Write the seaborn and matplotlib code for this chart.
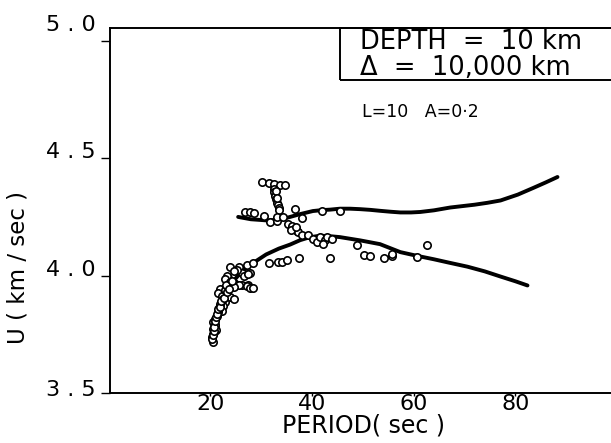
import numpy as np
import pandas as pd
import matplotlib
matplotlib.use("Agg")
import matplotlib.pyplot as plt
import matplotlib.transforms as mtransforms
from matplotlib.patches import Rectangle
import seaborn as sns

# ---- data ----
upper_period = [25.5, 28.0, 31.2, 33.5, 35.4, 37.7, 40.2, 42.0, 43.6, 45.5, 47.5, 49.5, 51.5,
                53.4, 55.5, 57.4, 59.5, 61.3, 64.0, 67.2, 70.0, 72.0, 74.5, 77.1, 80.5, 83.6, 86.0, 88.3]
upper_U = [4.250, 4.240, 4.235, 4.238, 4.248, 4.262, 4.275, 4.279, 4.281, 4.285, 4.285, 4.283, 4.280,
           4.276, 4.272, 4.269, 4.269, 4.271, 4.278, 4.290, 4.297, 4.302, 4.310, 4.320, 4.345, 4.374, 4.397, 4.420]

lower_period = [20.6, 21.2, 22.0, 23.5, 25.5, 27.9, 31.0, 33.5, 35.7, 37.7, 39.5, 41.6, 43.5, 45.5,
                49.5, 53.4, 57.4, 60.5, 63.9, 67.0, 70.6, 74.0, 77.1, 80.0, 82.4]
lower_U = [3.720, 3.800, 3.880, 3.950, 4.000, 4.046, 4.090, 4.115, 4.132, 4.151, 4.163, 4.170, 4.168, 4.164,
           4.150, 4.134, 4.100, 4.085, 4.070, 4.055, 4.038, 4.018, 3.996, 3.976, 3.958]

obs_period = [30.2, 31.5, 32.6, 33.8, 34.7,
              32.5, 32.6, 32.8, 33.0, 33.1, 33.3, 33.5, 33.6, 32.9, 33.2,
              36.7, 26.9, 27.9, 28.6, 30.5,
              31.8, 33.1, 33.1, 34.4, 38.0,
              35.4, 36.0, 36.5, 37.0, 37.2, 35.8, 36.8,
              38.0, 39.3, 40.3, 41.0, 41.6, 42.6, 43.0, 44.0, 42.2,
              42.0, 45.6, 48.9, 62.6,
              31.5, 33.4, 34.1, 35.1, 37.4, 43.6, 50.2, 51.5, 54.1, 55.7, 55.7, 60.7,
              23.9, 25.6, 27.2, 28.5, 26.2, 27.9, 23.6, 24.6, 26.2, 27.5, 27.2, 27.9, 28.5,
              25.3, 24.6, 26.6, 27.5,
              23.3, 22.9, 23.9, 24.9, 25.6, 24.6,
              21.9, 21.6, 22.3, 23.3, 23.9, 24.6,
              22.9, 22.6, 22.3, 21.6, 21.3, 20.9, 20.6, 20.9, 20.6, 20.6, 20.3, 20.5,
              21.0, 21.1, 20.8, 21.8, 22.0, 22.5, 23.0, 23.2,
              20.4, 20.5, 20.7, 20.8, 21.0, 21.2, 21.4, 21.5, 21.9, 22.2, 22.8, 23.4, 23.8, 24.2]
obs_U = [4.399, 4.395, 4.391, 4.388, 4.388,
         4.370, 4.355, 4.340, 4.325, 4.310, 4.300, 4.290, 4.280, 4.360, 4.330,
         4.283, 4.269, 4.273, 4.265, 4.255,
         4.227, 4.231, 4.248, 4.248, 4.245,
         4.220, 4.210, 4.200, 4.190, 4.185, 4.195, 4.205,
         4.171, 4.171, 4.157, 4.143, 4.164, 4.150, 4.164, 4.157, 4.135,
         4.276, 4.276, 4.132, 4.129,
         4.055, 4.059, 4.059, 4.066, 4.073, 4.075, 4.087, 4.084, 4.076, 4.084, 4.091, 4.080,
         4.038, 4.038, 4.045, 4.052, 4.010, 4.010, 3.989, 3.968, 3.961, 3.961, 3.954, 3.947, 3.947,
         4.025, 4.020, 4.000, 4.005,
         3.999, 3.985, 3.971, 3.964, 3.958, 3.951,
         3.942, 3.928, 3.914, 3.921, 3.907, 3.900,
         3.886, 3.872, 3.851, 3.844, 3.830, 3.816, 3.802, 3.788, 3.774, 3.753, 3.739, 3.716,
         3.790, 3.770, 3.760, 3.860, 3.880, 3.900, 3.940, 3.960,
         3.730, 3.745, 3.765, 3.782, 3.808, 3.822, 3.838, 3.858, 3.866, 3.893, 3.905, 3.930, 3.945, 3.975]

x_ticks = [20, 40, 60, 80]
y_ticks = [3.5, 4.0, 4.5, 5.0]
y_tick_labels = ["3 . 5", "4 . 0", "4 . 5", "5 . 0"]

# ---- figure ----
sns.set_theme(style="white")
plt.rcParams["font.family"] = ["DejaVu Sans"]
plt.rcParams["text.color"] = "black"
plt.rcParams["axes.labelcolor"] = "black"

W, H = 611, 443
fig = plt.figure(figsize=(W / 100, H / 100), dpi=100)
ax_left, ax_right, ax_top, ax_bot = 110, 618, 28, 393
ax = fig.add_axes([ax_left / W, 1 - ax_bot / H, (ax_right - ax_left) / W, (ax_bot - ax_top) / H])

up = pd.DataFrame({"period": upper_period, "U": upper_U})
lo = pd.DataFrame({"period": lower_period, "U": lower_U})
obs = pd.DataFrame({"period": obs_period, "U": obs_U})

sns.lineplot(data=up, x="period", y="U", ax=ax, color="black", lw=2.8, estimator=None, sort=False)
sns.lineplot(data=lo, x="period", y="U", ax=ax, color="black", lw=2.8, estimator=None, sort=False)
sns.scatterplot(data=obs, x="period", y="U", ax=ax, marker="o", s=28,
                facecolor="white", edgecolor="black", linewidth=1.2, zorder=5)

ax.set_xlim(0.3, 100.2)
ax.set_ylim(3.521, 5.0546)

for side in ["left", "bottom", "top"]:
    ax.spines[side].set_color("black")
    ax.spines[side].set_linewidth(1.4)
ax.spines["right"].set_visible(False)

ax.set_xticks(x_ticks)
ax.set_xticklabels([str(t) for t in x_ticks], fontsize=16)
ax.set_yticks(y_ticks)
ax.set_yticklabels(y_tick_labels, fontsize=16)
ax.tick_params(axis="y", direction="out", length=6.5, width=1.0, pad=4, left=True, colors="black")
ax.tick_params(axis="x", direction="out", length=2.5, width=1.0, pad=-2, bottom=True, colors="black")

# shift y tick labels upward as in the reference
y_offsets_px = [5, 8, 8, 18]
for lbl, off in zip(ax.get_yticklabels(), y_offsets_px):
    lbl.set_transform(lbl.get_transform() + mtransforms.ScaledTranslation(0, off / 100, fig.dpi_scale_trans))

ax.set_xlabel("PERIOD( sec )", fontsize=17, color="black")
ax.xaxis.set_label_coords((364 - ax_left) / (ax_right - ax_left), -(413 - ax_bot) / (ax_bot - ax_top))
ax.set_ylabel("U ( km / sec )", fontsize=16.5, color="black")
ax.yaxis.set_label_coords(-(ax_left - 29) / (ax_right - ax_left), (ax_bot - 268) / (ax_bot - ax_top))

def fx(x):
    return x / W

def fy(y):
    return 1 - y / H

# box at top right
fig.patches.append(Rectangle((fx(340), fy(80)), fx(300), fy(28) - fy(80), transform=fig.transFigure,
                             fill=False, edgecolor="black", linewidth=1.4))
fig.text(fx(360), fy(75), "DEPTH  =  10 km\nΔ  =  10,000 km", fontsize=18.5, va="baseline",
         ha="left", linespacing=1.0, color="black")
fig.text(fx(362), fy(117), "L=10   A=0·2", fontsize=12.5, va="baseline", ha="left", color="black")

fig.savefig("out.png", dpi=100)
